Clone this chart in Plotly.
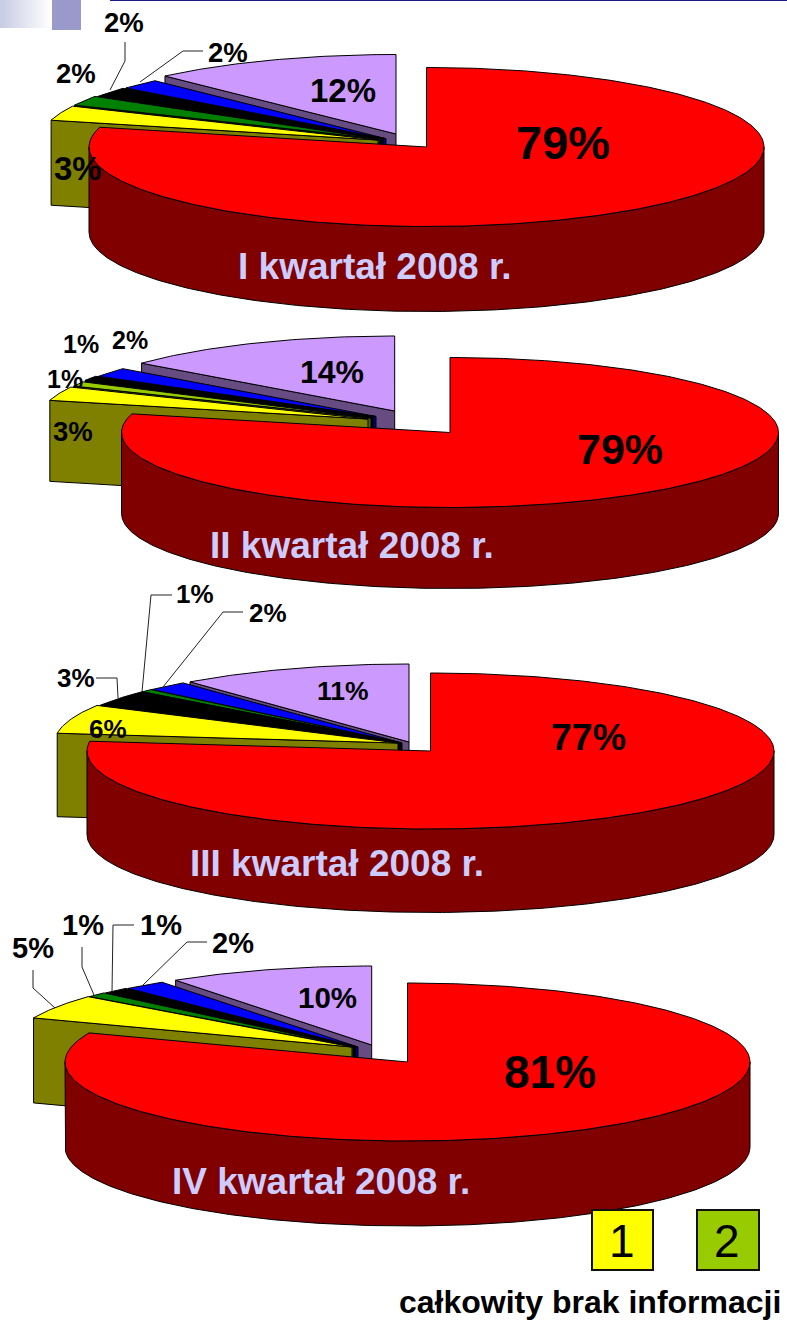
import math
import plotly.graph_objects as go

# ---------- data ----------
QUARTERS = ["I kwartał 2008 r.", "II kwartał 2008 r.", "III kwartał 2008 r.", "IV kwartał 2008 r."]
Q1_VALUES = [79, 3, 2, 2, 2, 12]
Q2_VALUES = [79, 3, 1, 1, 2, 14]
Q3_VALUES = [77, 6, 3.4, 0.6, 2, 11]
Q4_VALUES = [81, 5, 1, 1.3, 2, 9.7]
Q1_LABELS = ["79%", "3%", "2%", "2%", "2%", "12%"]
Q2_LABELS = ["79%", "3%", "1%", "1%", "2%", "14%"]
Q3_LABELS = ["77%", "6%", "3%", "1%", "2%", "11%"]
Q4_LABELS = ["81%", "5%", "1%", "1%", "2%", "10%"]
Q1_KEYS = ["red", "yellow", "green", "black", "blue", "purple"]
Q2_KEYS = ["red", "yellow", "lime", "black", "blue", "purple"]
Q3_KEYS = ["red", "yellow", "black", "green", "blue", "purple"]
Q4_KEYS = ["red", "yellow", "green", "black", "blue", "purple"]
LEGEND_LABELS = ["1", "2"]
LEGEND_CAPTION = "całkowity brak informacji"

# ---------- style ----------
TOP = {"red": "#FF0000", "yellow": "#FFFF00", "green": "#008000", "lime": "#99CC00",
       "black": "#000000", "blue": "#0000FF", "purple": "#CC99FF"}
SIDE = {"red": "#800000", "yellow": "#808000", "green": "#004000", "lime": "#4C6600",
        "black": "#000000", "blue": "#000080", "purple": "#664C80"}

# ---------- layout of each pie: radii, depth and per-slice apex (exploded) ----------
PIES = [
    dict(values=Q1_VALUES, labels=Q1_LABELS, keys=Q1_KEYS, rx=337.5, ry=79.5, d=85,
         apex=[(426.5, 147), (378, 140), (380, 139), (383, 139), (386, 138.7), (396, 134)],
         text=[(563, 142, 47), (78, 168, 33), (76, 73, 27.5), (124, 22, 27.5), (228, 52, 27.5), (343, 90, 33)],
         title=(375, 266, 37),
         leaders=[[(125, 42), (125, 61), (110, 90)], [(203, 51), (183, 51), (140, 82)]]),
    dict(values=Q2_VALUES, labels=Q2_LABELS, keys=Q2_KEYS, rx=328.5, ry=75, d=81,
         apex=[(450, 432.5), (368, 419), (371, 418), (373, 416.5), (376, 416.5), (394.7, 411)],
         text=[(620, 449, 43), (73, 431, 27.5), (65, 379, 25), (81, 344, 25), (130, 340, 25), (332, 372, 32)],
         title=(352, 545, 37),
         leaders=[]),
    dict(values=Q3_VALUES, labels=Q3_LABELS, keys=Q3_KEYS, rx=343.5, ry=78, d=83.5,
         apex=[(430.5, 751), (398, 743), (401, 743), (401.5, 743), (402, 743), (409, 742)],
         text=[(588, 737, 37.5), (108, 729, 26), (76, 678, 26), (195, 594, 26), (268, 613, 26), (343, 691, 26.5)],
         title=(337, 863, 37),
         leaders=[[(96, 678), (117, 678), (118, 698)], [(172, 595), (151, 595), (142, 692)],
                  [(243, 612), (223, 612), (163, 687)]]),
    dict(values=Q4_VALUES, labels=Q4_LABELS, keys=Q4_KEYS, rx=342.5, ry=79, d=85,
         apex=[(407.5, 1062), (352, 1047), (353.5, 1047), (355.5, 1047), (358, 1047), (371.7, 1045)],
         text=[(550, 1072, 46), (33, 948, 29), (83, 925, 29), (161, 925, 29), (233, 943, 29), (327, 997, 29.5)],
         title=(321, 1181, 37),
         leaders=[[(33, 970), (33, 988), (55, 1008)], [(82, 947), (82, 967), (94, 995)],
                  [(134, 925), (113, 925), (112, 992)], [(207, 942), (187, 942), (143, 985)]]),
]

fig = go.Figure()
annotations = []
shapes = []


def point(apex, rx, ry, deg):
    t = math.radians(deg)
    return apex[0] + rx * math.sin(t), apex[1] - ry * math.cos(t)


def polygon(pts, fill):
    xs = [p[0] for p in pts] + [pts[0][0]]
    ys = [p[1] for p in pts] + [pts[0][1]]
    fig.add_trace(go.Scatter(x=xs, y=ys, mode="lines", fill="toself", fillcolor=fill,
                             line=dict(color="#000000", width=1), hoverinfo="skip", showlegend=False))


def arc(apex, rx, ry, a0, a1):
    n = max(2, int(abs(a1 - a0) * 1.5))
    return [point(apex, rx, ry, a0 + (a1 - a0) * i / n) for i in range(n + 1)]


def text(x, y, s, size, color="#000000", bold=True):
    annotations.append(dict(x=x, y=y, xref="x", yref="y", text=f"<b>{s}</b>" if bold else s, showarrow=False,
                            xanchor="center", yanchor="middle",
                            font=dict(family="Liberation Sans", size=size, color=color)))


for pie_index, pie in enumerate(PIES):
    total = sum(pie["values"])
    bounds = []
    acc = 0
    for v in pie["values"]:
        bounds.append((acc / total * 360, (acc + v) / total * 360))
        acc += v
    order = list(range(len(pie["values"]) - 1, -1, -1))  # back slices first, red last
    rx, ry, d = pie["rx"], pie["ry"], pie["d"]
    for i in order:
        a0, a1 = bounds[i]
        apex = pie["apex"][i]
        key = pie["keys"][i]
        # radial face seen from the front
        if a0 > 180:
            c = point(apex, rx, ry, a0)
            polygon([c, apex, (apex[0], apex[1] + d), (c[0], c[1] + d)], SIDE[key])
        # outer wall in the front half
        lo, hi = max(a0, 90), min(a1, 270)
        if hi > lo:
            top = arc(apex, rx, ry, lo, hi)
            bottom = [(x, y + d) for x, y in reversed(top)]
            polygon(top + bottom, SIDE[key])
        # top surface
        polygon([apex] + arc(apex, rx, ry, a0, a1), TOP[key])
    for leader in pie["leaders"]:
        fig.add_trace(go.Scatter(x=[p[0] for p in leader], y=[p[1] for p in leader], mode="lines",
                                 line=dict(color="#222222", width=1), hoverinfo="skip", showlegend=False))
    for label, (x, y, size) in zip(pie["labels"], pie["text"]):
        text(x, y, label, size)
    tx, ty, ts = pie["title"]
    text(tx, ty, QUARTERS[pie_index], ts, color="#CCCCFF")

# legend boxes
for label, x0, x1, fill in zip(LEGEND_LABELS, (592, 697), (653, 759), ("#FFFF00", "#99CC00")):
    shapes.append(dict(type="rect", x0=x0, x1=x1, y0=1210, y1=1270, xref="x", yref="y",
                       fillcolor=fill, line=dict(color="#111111", width=2)))
    text((x0 + x1) / 2 - 1, 1241, label, 46, bold=False)
text(590, 1302, LEGEND_CAPTION, 32)

# slide decoration at the top
for i in range(26):
    level = i / 25
    r = round(200 + 55 * level)
    g = round(204 + 51 * level)
    b = round(228 + 27 * level)
    shapes.append(dict(type="rect", x0=i * 2, x1=i * 2 + 2, y0=0, y1=28, xref="x", yref="y", layer="below",
                       fillcolor=f"rgb({r},{g},{b})", line=dict(width=0)))
shapes.append(dict(type="rect", x0=52, x1=81, y0=0, y1=30, xref="x", yref="y", layer="below",
                   fillcolor="#9999CC", line=dict(width=0)))
shapes.append(dict(type="rect", x0=110, x1=787, y0=0, y1=1, xref="x", yref="y", layer="below",
                   fillcolor="#1A1A8C", line=dict(width=0)))

fig.update_layout(width=787, height=1326, margin=dict(l=0, r=0, t=0, b=0), paper_bgcolor="white",
                  plot_bgcolor="white", showlegend=False, annotations=annotations, shapes=shapes,
                  xaxis=dict(range=[0, 787], visible=False, fixedrange=True),
                  yaxis=dict(range=[1326, 0], visible=False, fixedrange=True))
fig.write_html("out.html", config={"displayModeBar": False},
               post_script="document.body.style.margin='0';document.body.style.overflow='hidden';")
